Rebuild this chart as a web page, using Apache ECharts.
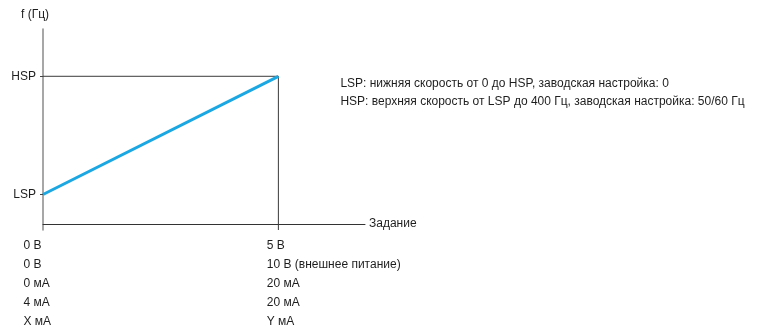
<!DOCTYPE html>
<html><head><meta charset="utf-8">
<script src="https://cdn.jsdelivr.net/npm/echarts@6/dist/echarts.min.js"></script>
<style>html,body{margin:0;padding:0;background:#fff}#c{width:764px;height:331px}</style>
</head><body><div id="c"></div>
<script>
const xTickValues = [0, 5];
const speedNames = ['LSP', 'HSP'];
const speedValues = [1, 5];
const rampX = [0, 5];
const rampY = [1, 5];
const col0Labels = ['0 В', '0 В', '0 мА', '4 мА', 'X мА'];
const col5Labels = ['5 В', '10 В (внешнее питание)', '20 мА', '20 мА', 'Y мА'];
const notes = ['LSP: нижняя скорость от 0 до HSP, заводская настройка: 0',
               'HSP: верхняя скорость от LSP до 400 Гц, заводская настройка: 50/60 Гц'];
const xAxisName = 'Задание';
const yAxisName = 'f (Гц)';
const xMax = 6.84, yMin = -0.2, yMax = 6.6;

const FONT = '"Liberation Sans", Arial, sans-serif';
const TXT = '#1e1e1e';
const chart = echarts.init(document.getElementById('c'), null, {renderer: 'canvas'});

const option = {
  animation: false,
  backgroundColor: '#fff',
  textStyle: {fontFamily: FONT},
  grid: {left: 43, right: 764 - 365, top: 29, bottom: 331 - 230},
  xAxis: {
    type: 'value', min: 0, max: xMax,
    name: xAxisName, nameLocation: 'end', nameGap: 4,
    nameTextStyle: {color: TXT, fontSize: 12, fontFamily: FONT, padding: [3, 0, 0, 0]},
    axisLine: {onZero: true, lineStyle: {color: '#333', width: 1}},
    axisTick: {show: false},
    axisLabel: {show: false},
    splitLine: {show: false}
  },
  yAxis: {
    type: 'value', min: yMin, max: yMax,
    name: yAxisName, nameLocation: 'end', nameGap: 8,
    nameTextStyle: {color: TXT, fontSize: 12, fontFamily: FONT, align: 'center', padding: [0, 16, 0, 0]},
    axisLine: {show: true, lineStyle: {color: '#8a8a8a', width: 1.5}},
    axisTick: {show: true, customValues: speedValues, length: 3, lineStyle: {color: '#444'}},
    axisLabel: {
      customValues: speedValues, margin: 7, color: TXT, fontSize: 12, fontFamily: FONT,
      formatter: v => speedNames[speedValues.indexOf(v)] || ''
    },
    splitLine: {show: false}
  },
  series: [
    {
      type: 'line', silent: true, symbol: 'none', clip: false,
      data: [[0, rampY[1]], [rampX[1], rampY[1]], [rampX[1], yMin]],
      lineStyle: {color: '#3a3a3a', width: 1}
    },
    {
      type: 'line', silent: true, symbol: 'none',
      data: rampX.map((x, i) => [x, rampY[i]]),
      lineStyle: {color: '#1ba7e1', width: 3, cap: 'butt'}
    }
  ]
};
chart.setOption(option);

const p0 = chart.convertToPixel({gridIndex: 0}, [xTickValues[0], 0]);
const p5 = chart.convertToPixel({gridIndex: 0}, [xTickValues[1], 0]);
const pH = chart.convertToPixel({gridIndex: 0}, [xTickValues[1], speedValues[1]]);
const colStyle = {fill: TXT, fontSize: 12, fontFamily: FONT, lineHeight: 19, verticalAlign: 'top', align: 'left'};
chart.setOption({
  graphic: [
    {type: 'text', left: p0[0] - 19.5, top: p0[1] + 12.5, style: Object.assign({text: col0Labels.join('\n')}, colStyle)},
    {type: 'text', left: p5[0] - 11.6, top: p5[1] + 12.5, style: Object.assign({text: col5Labels.join('\n')}, colStyle)},
    {type: 'text', left: pH[0] + 62, top: pH[1] - 2, style: {text: notes.join('\n'), fill: TXT, fontSize: 12, fontFamily: FONT, lineHeight: 18, verticalAlign: 'top', align: 'left'}}
  ]
});
</script></body></html>
